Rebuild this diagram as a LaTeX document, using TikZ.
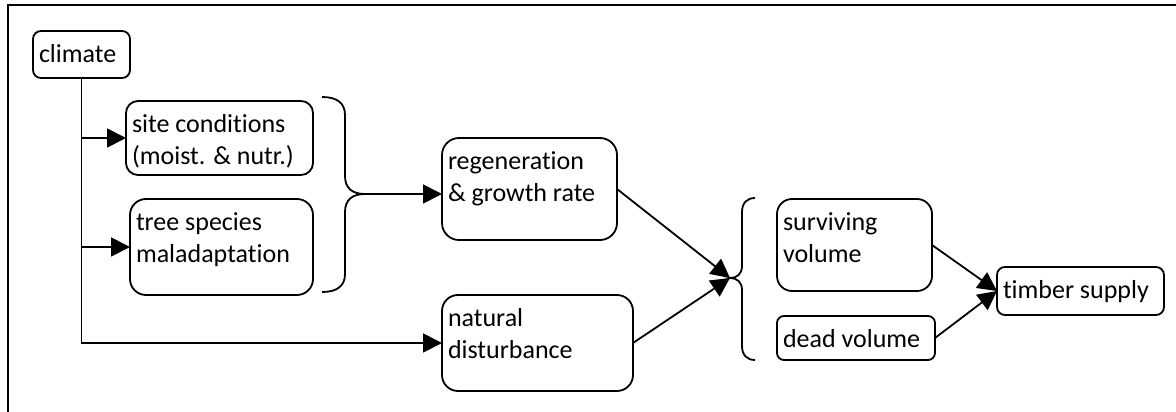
\documentclass[tikz,border=0pt]{standalone}
\usepackage{fontspec}
\setmainfont{Carlito}[Ligatures=NoCommon]
\usetikzlibrary{arrows.meta}
\newcommand{\bx}[3]{\parbox[t][#2][t]{#1}{\raggedright\rule{0pt}{31.5pt}#3}}
\tikzset{
  box/.style={draw, line width=1.8pt, inner xsep=6pt, inner ysep=0pt, outer sep=0pt,
    anchor=north west, font=\fontsize{26pt}{32pt}\selectfont},
  arr/.style={-{Triangle[length=19pt,width=19pt]}, line width=1.8pt},
  brace/.style={line width=1.8pt},
  frame/.style={line width=1.8pt}
}
\begin{document}
\begin{tikzpicture}[x=1pt,y=-1pt]
\useasboundingbox (0,0) rectangle (1176,412);
\draw[frame] (8,412) -- (8,5) -- (1176,5);

\node[box, rounded corners=8pt] (climate) at (33,31) {\bx{85pt}{47pt}{climate}};
\node[box, rounded corners=12pt] (site) at (126,101) {\bx{175pt}{74pt}{site conditions\\(moist. \& nutr.)}};
\node[box, rounded corners=16pt] (tree) at (130,199) {\bx{171pt}{96pt}{tree species\\maladaptation}};
\node[box, rounded corners=17pt] (regen) at (442,138) {\bx{163pt}{102pt}{regeneration\\\& growth rate}};
\node[box, rounded corners=16pt] (nat) at (442,295) {\bx{179pt}{96pt}{natural\\disturbance}};
\node[box, rounded corners=15pt] (surv) at (777,199) {\bx{143pt}{92pt}{surviving\\volume}};
\node[box, rounded corners=7pt] (dead) at (777,316) {\bx{146pt}{44pt}{dead volume}};
\node[box, rounded corners=8pt] (timber) at (997,267) {\bx{155pt}{48pt}{timber supply}};

% brace 1
\coordinate (tipA) at (365,194);
\draw[brace] (322,97) .. controls (337,97) and (345,103) .. (345,115)
  -- (345,176) .. controls (345,188) and (352,194) .. (tipA)
  .. controls (352,194) and (345,200) .. (345,212)
  -- (345,274) .. controls (345,286) and (337,292) .. (322,292);
% brace 2
\coordinate (tipB) at (730,278);
\draw[brace] (755,198) .. controls (747,198) and (742,203) .. (742,212)
  -- (742,266) .. controls (742,274) and (737,278) .. (tipB)
  .. controls (737,278) and (742,282) .. (742,290)
  -- (742,346) .. controls (742,355) and (747,360) .. (755,360);

% connectors
\draw[arr] (climate.south) |- (nat.west);
\draw[arr] (climate.south |- site.west) -- (site.west);
\draw[arr] (climate.south |- tree.west) -- (tree.west);
\draw[arr] (tipA) -- (regen.west |- tipA);
\draw[arr] (regen.east) -- (tipB);
\draw[arr] (nat.east) -- (tipB);
\draw[arr] (surv.east) -- (timber.west);
\draw[arr] (dead.east) -- (timber.west);
\end{tikzpicture}
\end{document}
